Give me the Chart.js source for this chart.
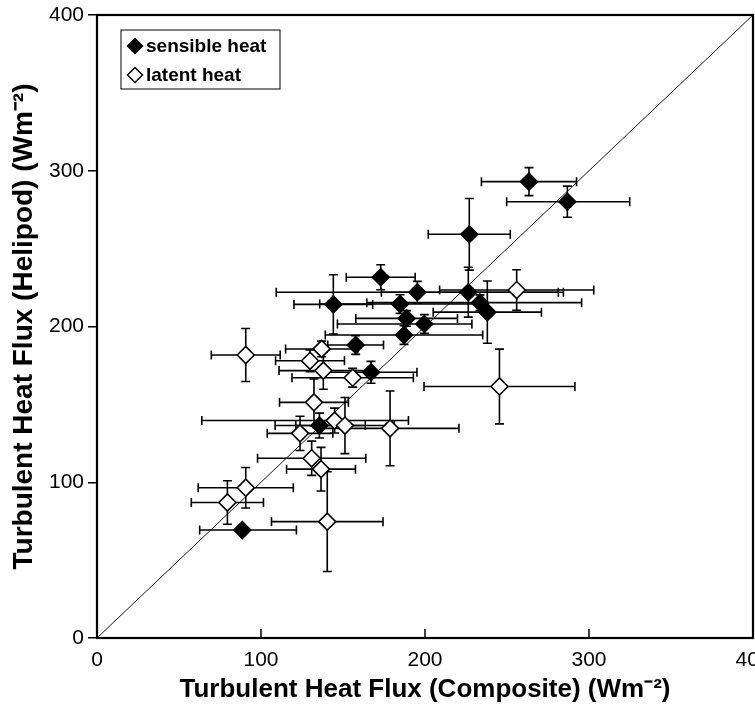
<!DOCTYPE html>
<html>
<head>
<meta charset="utf-8">
<script src="https://cdn.jsdelivr.net/npm/chart.js@4.4.1/dist/chart.umd.min.js"></script>
<style>
  html, body { margin: 0; padding: 0; background: #fff; }
  #wrap { width: 755px; height: 706px; }
</style>
</head>
<body>
<div id="wrap"><canvas id="fluxChart"></canvas></div>
<script>
// values (W m-2)
const sensibleX = [263.4, 286.8, 227.0, 173.0, 195.3, 226.4, 144.1, 184.8, 233.5, 238.0, 188.8, 199.6, 187.2, 157.7, 167.1, 135.6, 88.6];
const sensibleY = [293.0, 280.1, 259.2, 231.6, 222.0, 222.0, 214.2, 214.4, 215.3, 209.2, 205.2, 201.6, 194.5, 188.1, 170.6, 136.4, 69.3];
// [minus, plus]
const sensibleXErr = [[29, 29], [37, 38], [25, 25], [21, 21], [86, 86], [53, 58], [24, 24], [49, 49], [69, 62], [33, 33], [31, 31], [53, 29], [48, 48], [17, 17], [28, 28], [27, 28], [26, 33]];
const sensibleYErr = [9, 10, 23, 8, 7, 16, 19, 6, 5, 20, 5, 6, 6, 6, 7, 8, 0];

const latentX = [255.9, 90.7, 137.0, 129.9, 138.0, 155.9, 132.3, 144.9, 151.2, 178.7, 123.8, 130.9, 136.6, 90.7, 79.5, 140.4, 245.4];
const latentY = [223.4, 181.7, 185.6, 178.0, 171.7, 167.1, 151.3, 139.6, 136.4, 134.6, 131.4, 115.4, 108.4, 96.5, 87.0, 74.7, 161.5];
const latentXErr = [[47, 47], [21, 21], [22, 22], [21, 21], [27, 27], [37, 37], [21, 21], [81, 45], [30, 30], [42, 42], [20, 20], [33, 33], [21, 21], [29, 29], [22, 22], [34, 34], [46, 46]];
const latentYErr = [13, 17, 5, 7, 12, 6, 15, 8, 18, 24, 11, 11, 14, 13, 14, 32, 24];

const axisTicks = [0, 100, 200, 300, 400];
const oneToOne = [0, 400];

const seriesNames = ['sensible heat', 'latent heat'];

const toPoints = (xs, ys) => xs.map((v, i) => ({x: v, y: ys[i]}));

Chart.defaults.font.family = "'Liberation Sans', Arial, sans-serif";
Chart.defaults.color = '#000';

const titleFamily = "'Liberation Sans Narrow', 'Liberation Sans', Arial, sans-serif";

const errorBars = {
  id: 'errorBars',
  beforeDatasetsDraw(chart) {
    const {ctx, scales: {x, y}} = chart;
    const cap = 4.5;
    ctx.save();
    ctx.strokeStyle = '#000';
    ctx.lineWidth = 1.6;
    const sets = [
      [sensibleX, sensibleY, sensibleXErr, sensibleYErr],
      [latentX, latentY, latentXErr, latentYErr]
    ];
    sets.forEach(([xs, ys, xe, ye]) => {
      xs.forEach((xv, i) => {
        const py = y.getPixelForValue(ys[i]);
        const px = x.getPixelForValue(xv);
        const x0 = x.getPixelForValue(xv - xe[i][0]);
        const x1 = x.getPixelForValue(xv + xe[i][1]);
        ctx.beginPath();
        ctx.moveTo(x0, py); ctx.lineTo(x1, py);
        ctx.moveTo(x0, py - cap); ctx.lineTo(x0, py + cap);
        ctx.moveTo(x1, py - cap); ctx.lineTo(x1, py + cap);
        if (ye[i] > 0) {
          const y0 = y.getPixelForValue(ys[i] - ye[i]);
          const y1 = y.getPixelForValue(ys[i] + ye[i]);
          ctx.moveTo(px, y0); ctx.lineTo(px, y1);
          ctx.moveTo(px - cap, y0); ctx.lineTo(px + cap, y0);
          ctx.moveTo(px - cap, y1); ctx.lineTo(px + cap, y1);
        }
        ctx.stroke();
      });
    });
    ctx.restore();
  }
};

const frameAndLegend = {
  id: 'frameAndLegend',
  afterDraw(chart) {
    const {ctx, chartArea: ca, scales: {x}} = chart;
    ctx.save();
    ctx.strokeStyle = '#000';
    // inward ticks on x axis
    ctx.lineWidth = 1.5;
    x.ticks.forEach(t => {
      const px = x.getPixelForValue(t.value);
      ctx.beginPath();
      ctx.moveTo(px, ca.bottom);
      ctx.lineTo(px, ca.bottom - 9);
      ctx.stroke();
    });
    ctx.lineWidth = 2.2;
    ctx.strokeRect(ca.left, ca.top, ca.right - ca.left, ca.bottom - ca.top);

    // legend box
    const bx = ca.left + 24, by = ca.top + 15;
    ctx.lineWidth = 1;
    ctx.strokeRect(bx, by, 159, 59);
    ctx.font = "bold 19px 'Liberation Sans', Arial, sans-serif";
    ctx.textBaseline = 'middle';
    ctx.textAlign = 'left';
    seriesNames.forEach((name, i) => {
      const ds = chart.data.datasets[i];
      const cy = by + 16 + i * 29;
      ctx.fillStyle = ds.backgroundColor;
      ctx.strokeStyle = '#000';
      ctx.lineWidth = 1.5;
      Chart.helpers.drawPoint(ctx, {pointStyle: 'rectRot', radius: 7.5, borderWidth: 1.5}, bx + 14, cy);
      ctx.fillStyle = '#000';
      ctx.fillText(name, bx + 25, cy + 1);
    });
    ctx.restore();
  }
};

new Chart(document.getElementById('fluxChart'), {
  type: 'scatter',
  data: {
    datasets: [
      {
        label: seriesNames[0],
        data: toPoints(sensibleX, sensibleY),
        pointStyle: 'rectRot',
        pointRadius: 8.5,
        backgroundColor: '#000',
        borderColor: '#000',
        borderWidth: 1.5
      },
      {
        label: seriesNames[1],
        data: toPoints(latentX, latentY),
        pointStyle: 'rectRot',
        pointRadius: 8.5,
        backgroundColor: '#fff',
        borderColor: '#000',
        borderWidth: 1.6
      },
      {
        label: '1:1',
        data: toPoints(oneToOne, oneToOne),
        showLine: true,
        pointRadius: 0,
        borderColor: '#000',
        borderWidth: 0.9
      }
    ]
  },
  options: {
    responsive: true,
    maintainAspectRatio: false,
    animation: false,
    layout: {autoPadding: false, padding: {top: 15, right: 2, left: 0, bottom: 0}},
    plugins: {
      legend: {display: false},
      tooltip: {enabled: false}
    },
    scales: {
      x: {
        type: 'linear',
        min: 0,
        max: 400,
        afterBuildTicks: s => { s.ticks = axisTicks.map(v => ({value: v})); },
        afterFit: s => { s.height = 68; s.paddingLeft = 0; s.paddingRight = 0; },
        grid: {display: false, drawTicks: false},
        border: {display: false},
        ticks: {font: {size: 21}, padding: 10, maxRotation: 0, autoSkip: false},
        title: {
          display: true,
          text: 'Turbulent Heat Flux (Composite) (Wm⁻²)',
          font: {family: titleFamily, size: 26, weight: 'bold'},
          padding: {top: 0, bottom: 1}
        }
      },
      y: {
        type: 'linear',
        min: 0,
        max: 400,
        afterBuildTicks: s => { s.ticks = axisTicks.map(v => ({value: v})); },
        afterFit: s => { s.width = 97; s.paddingTop = 0; s.paddingBottom = 0; },
        grid: {drawOnChartArea: false, drawTicks: true, tickLength: 9, color: '#000', lineWidth: 1.5},
        border: {display: false},
        ticks: {font: {size: 21}, padding: 4},
        title: {
          display: true,
          text: 'Turbulent Heat Flux (Helipod) (Wm⁻²)',
          font: {family: titleFamily, size: 28, weight: 'bold'},
          padding: {top: 7, bottom: 0}
        }
      }
    }
  },
  plugins: [errorBars, frameAndLegend]
});
</script>
</body>
</html>
